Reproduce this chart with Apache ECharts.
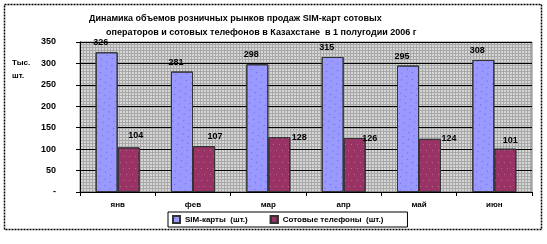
<!DOCTYPE html>
<html><head><meta charset="utf-8">
<script src="https://cdn.jsdelivr.net/npm/echarts@6/dist/echarts.min.js"></script>
<style>html,body{margin:0;padding:0;background:#fff}#c{width:547px;height:244px}</style>
</head><body><div id="c"></div>
<script>
const categories = ['янв','фев','мар','апр','май','июн'];
const simValues = [326, 281, 298, 315, 295, 308];
const phoneValues = [104, 107, 128, 126, 124, 101];
const yTicks = [0, 50, 100, 150, 200, 250, 300, 350];
const seriesNames = ['SIM-карты  (шт.)', 'Сотовые телефоны  (шт.)'];
const titleLines = ['Динамика объемов розничных рынков продаж SIM-карт сотовых',
                    'операторов и сотовых телефонов в Казахстане  в 1 полугодии 2006 г'];
// label nudges (style only)
const phoneLabelShift = [[7,-2],[11,0],[20,10],[15,10],[19,9],[5,1]];

const font = 'Liberation Sans, Arial, sans-serif';

// background pattern
const pc = document.createElement('canvas');
pc.width = 3; pc.height = 3;
const px = pc.getContext('2d');
px.fillStyle = '#d6d6d6'; px.fillRect(0,0,3,3);
px.fillStyle = '#a8a8a8'; px.fillRect(0,2,3,1); px.fillRect(2,0,1,3);

const chart = echarts.init(document.getElementById('c'), null, {renderer:'canvas'});
chart.setOption({
  animation: false,
  aria: {enabled: true, decal: {show: true}, label: {enabled: false}},
  title: [
    {text: titleLines[0], left: 84, top: 9, textStyle:{fontFamily:font, fontSize:9, fontWeight:'bold', color:'#000'}},
    {text: titleLines[1], left: 101, top: 23, textStyle:{fontFamily:font, fontSize:9, fontWeight:'bold', color:'#000'}}
  ],
  graphic: [
    {type:'rect', shape:{x:4.5, y:4.5, width:537, height:225}, style:{fill:null, stroke:'#000', lineWidth:1.5, lineDash:[2,1]}, z:-1},
    {type:'text', left: 12, top: 56, style:{text:'Тыс.\nшт.', font:'bold 8px '+font, fill:'#000', lineHeight:13}}
  ],
  grid: {left: 80, right: 15, top: 42, bottom: 52, show: true,
         backgroundColor: {image: pc, repeat: 'repeat'}, borderColor:'#808080', borderWidth:1},
  legend: {
    data: seriesNames, left: 168, top: 212, width: 260,
    itemWidth: 7, itemHeight: 7, itemGap: 22,
    borderColor:'#000', borderWidth:1, padding:[3,24,3,4], backgroundColor:'#fff',
    textStyle:{fontFamily:font, fontSize:8, fontWeight:'bold', color:'#000'},
    icon:'rect'
  },
  xAxis: {
    type:'category', data: categories,
    axisLine:{lineStyle:{color:'#000', width:1}},
    axisTick:{show:true, length:4, lineStyle:{color:'#000'}},
    axisLabel:{fontFamily:font, fontSize:8, fontWeight:'bold', color:'#000', margin:9}
  },
  yAxis: {
    type:'value', min: yTicks[0], max: yTicks[yTicks.length-1], interval: 50,
    axisLine:{show:true, lineStyle:{color:'#000'}},
    axisTick:{show:true, length:4, lineStyle:{color:'#000'}},
    splitLine:{show:true, lineStyle:{color:'#000', width:1}},
    axisLabel:{fontFamily:font, fontSize:9, fontWeight:'bold', color:'#000', margin:24,
               formatter: v => v === 0 ? '-' : String(v)}
  },
  series: [
    {name: seriesNames[0], type:'bar', data: simValues, barWidth: 22, barGap: '0%',
     itemStyle:{color:'#9999FF', borderColor:'#333', borderWidth:1,
       decal:{symbol:'rect', symbolSize:1, dashArrayX:[[1,5],[0,3,1,2]], dashArrayY:[1,5], color:'#6666dd'}},
     label:{show:true, position:'top', offset:[-6,0], distance:5,
            fontFamily:font, fontSize:9, fontWeight:'bold', color:'#000'}},
    {name: seriesNames[1], type:'bar', barWidth: 22,
     data: phoneValues.map((v,i)=>({value:v, label:{offset: phoneLabelShift[i]}})),
     itemStyle:{color:'#993366', borderColor:'#333', borderWidth:1,
       decal:{symbol:'rect', symbolSize:1, dashArrayX:[[1,5],[0,3,1,2]], dashArrayY:[1,5], color:'#bb6688'}},
     label:{show:true, position:'top', distance:5,
            fontFamily:font, fontSize:9, fontWeight:'bold', color:'#000'}}
  ]
});
</script></body></html>
